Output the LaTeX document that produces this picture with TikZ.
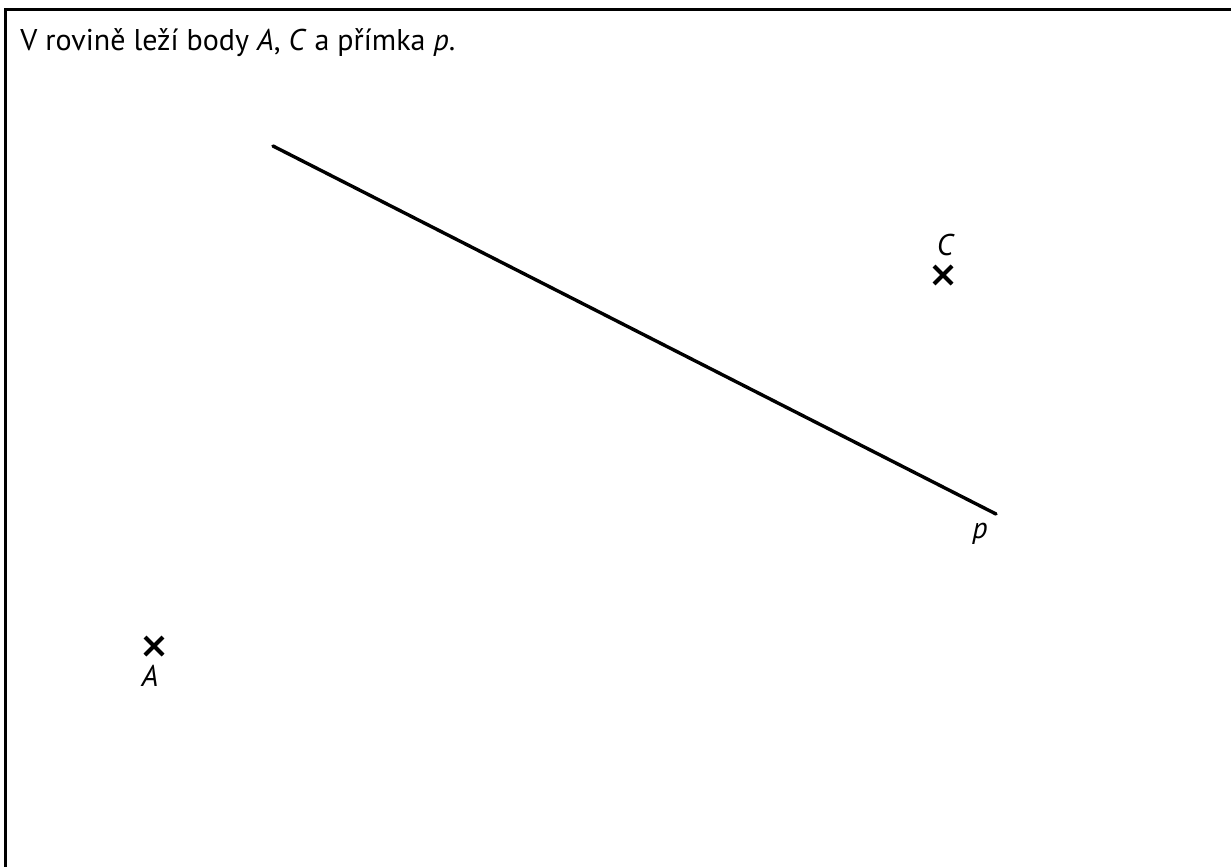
\documentclass[tikz,border=0pt]{standalone}
\usepackage{fontspec}
\setmainfont{PT Sans}
\usetikzlibrary{positioning,shapes.misc}

\begin{document}
\begin{tikzpicture}[
    x=0.5pt,y=-0.5pt,
    font=\fontsize{15pt}{18pt}\selectfont,
    frame/.style={line width=1.5pt},
    primka/.style={line width=1.7pt,line cap=round},
    bod/.style={draw,cross out,line width=2pt,inner sep=0pt,minimum size=7pt},
    lbl/.style={inner sep=0pt,font=\fontsize{15pt}{18pt}\selectfont\itshape}
  ]
    \useasboundingbox (0,0) rectangle (1231,867);
    % frame
    \draw[frame] (5,867) -- (5,9) -- (1231,9);
    \node[anchor=base west,inner sep=0pt] (zadani) at (20,50)
      {V rovině leží body \textit{A}, \textit{C} a přímka \textit{p}.};
    % line p
    \coordinate (p1) at (273,146);
    \coordinate (p2) at (996,514);
    \draw[primka] (p1) -- (p2);
    \node[lbl] (lp) at (980,534) {p};
    % points
    \node[bod] (bC) at (943,275) {};
    \node[lbl,above=5pt of bC,xshift=1pt] (lC) {C};
    \node[bod] (bA) at (154,646) {};
    \node[lbl,below=5pt of bA,xshift=-2pt] (lA) {A};
\end{tikzpicture}
\end{document}
